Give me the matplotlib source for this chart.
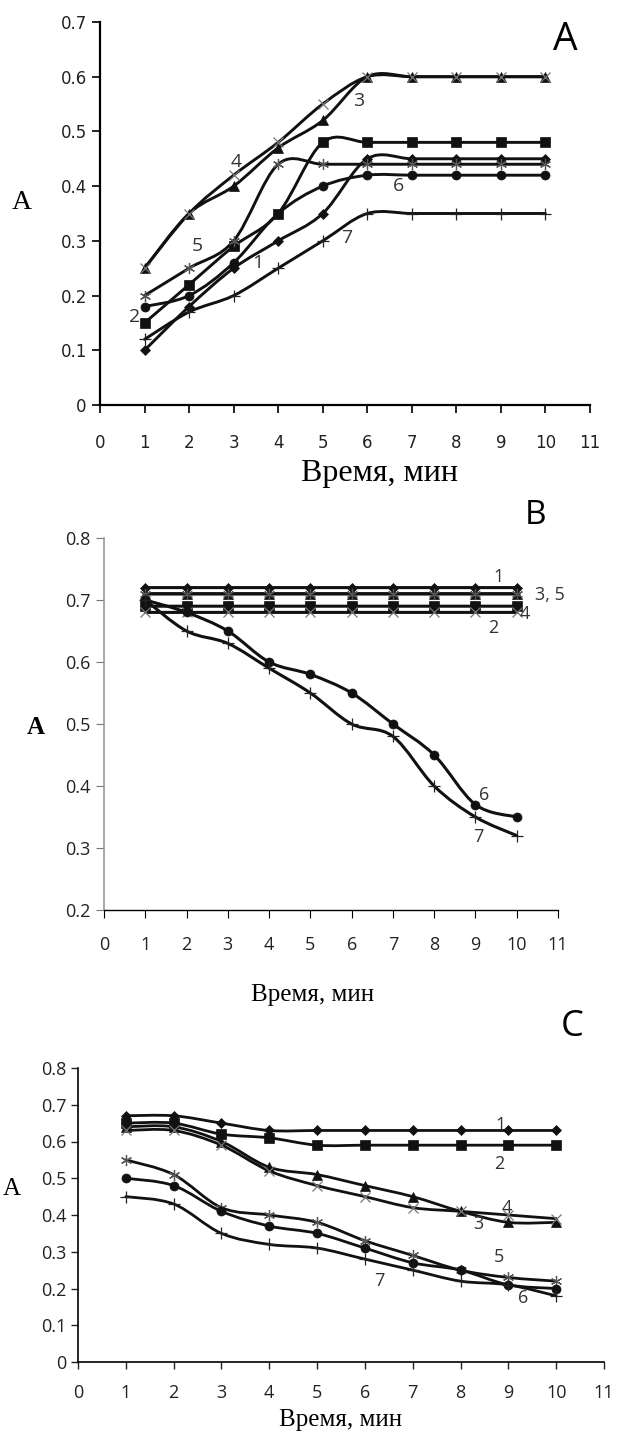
import numpy as np
import matplotlib
matplotlib.use("Agg")
import matplotlib.pyplot as plt
from matplotlib.path import Path
from matplotlib.patches import PathPatch

# time axis (min)
time = [1, 2, 3, 4, 5, 6, 7, 8, 9, 10]

# panel A
a1 = [0.10, 0.18, 0.25, 0.30, 0.35, 0.45, 0.45, 0.45, 0.45, 0.45]
a2 = [0.15, 0.22, 0.29, 0.35, 0.48, 0.48, 0.48, 0.48, 0.48, 0.48]
a3 = [0.25, 0.35, 0.40, 0.47, 0.52, 0.60, 0.60, 0.60, 0.60, 0.60]
a4 = [0.25, 0.35, 0.42, 0.48, 0.55, 0.60, 0.60, 0.60, 0.60, 0.60]
a5 = [0.20, 0.25, 0.30, 0.44, 0.44, 0.44, 0.44, 0.44, 0.44, 0.44]
a6 = [0.18, 0.20, 0.26, 0.35, 0.40, 0.42, 0.42, 0.42, 0.42, 0.42]
a7 = [0.12, 0.17, 0.20, 0.25, 0.30, 0.35, 0.35, 0.35, 0.35, 0.35]

# panel B
b1 = [0.72] * 10
b2 = [0.69] * 10
b3 = [0.71] * 10
b4 = [0.68] * 10
b5 = [0.71] * 10
b6 = [0.70, 0.68, 0.65, 0.60, 0.58, 0.55, 0.50, 0.45, 0.37, 0.35]
b7 = [0.70, 0.65, 0.63, 0.59, 0.55, 0.50, 0.48, 0.40, 0.35, 0.32]

# panel C
c1 = [0.67, 0.67, 0.65, 0.63, 0.63, 0.63, 0.63, 0.63, 0.63, 0.63]
c2 = [0.65, 0.65, 0.62, 0.61, 0.59, 0.59, 0.59, 0.59, 0.59, 0.59]
c3 = [0.64, 0.64, 0.60, 0.53, 0.51, 0.48, 0.45, 0.41, 0.38, 0.38]
c4 = [0.63, 0.63, 0.59, 0.52, 0.48, 0.45, 0.42, 0.41, 0.40, 0.39]
c5 = [0.55, 0.51, 0.42, 0.40, 0.38, 0.33, 0.29, 0.25, 0.23, 0.22]
c6 = [0.50, 0.48, 0.41, 0.37, 0.35, 0.31, 0.27, 0.25, 0.21, 0.20]
c7 = [0.45, 0.43, 0.35, 0.32, 0.31, 0.28, 0.25, 0.22, 0.21, 0.18]

# curve numbers and where they sit
a_labels = ["1", "2", "3", "4", "5", "6", "7"]
a_label_xy = [(3.55, 0.26), (0.78, 0.16), (5.8, 0.556), (3.05, 0.445),
              (2.18, 0.29), (6.7, 0.40), (5.53, 0.305)]
b_labels = ["1", "3, 5", "4", "2", "6", "7"]
b_label_xy = [(9.56, 0.737), (10.8, 0.708), (10.2, 0.677), (9.44, 0.655),
              (9.2, 0.385), (9.06, 0.318)]
c_labels = ["1", "2", "3", "4", "5", "6", "7"]
c_label_xy = [(8.83, 0.645), (8.8, 0.54), (8.37, 0.375), (8.97, 0.42),
              (8.8, 0.285), (9.3, 0.175), (6.3, 0.22)]

# marker per curve number (Excel style)
MARKERS = [
    dict(marker="D", ms=5.0, mfc="#111", mec="#111", mew=0.5),
    dict(marker="s", ms=6.5, mfc="#111", mec="#111", mew=0.5),
    dict(marker="^", ms=6.5, mfc="#111", mec="#111", mew=0.5),
    dict(marker="x", ms=7.0, mfc="none", mec="#777", mew=0.9),
    dict(marker=(6, 2, 0), ms=8.0, mfc="none", mec="#555", mew=0.9),
    dict(marker="o", ms=6.5, mfc="#111", mec="#111", mew=0.5),
    dict(marker="+", ms=8.0, mfc="none", mec="#222", mew=0.9),
]

SANS = ["Liberation Sans Narrow", "Open Sans", "DejaVu Sans"]
SERIF = ["Liberation Serif", "DejaVu Serif"]


def smooth_line(ax, x, y, lw=2.0):
    # Excel-like smoothed line: cubic Bezier through each point
    pts = np.column_stack([x, y]).astype(float)
    n = len(pts)
    verts = [pts[0]]
    codes = [Path.MOVETO]
    for i in range(n - 1):
        p0 = pts[max(i - 1, 0)]
        p1 = pts[i]
        p2 = pts[i + 1]
        p3 = pts[min(i + 2, n - 1)]
        verts += [p1 + (p2 - p0) / 6.0, p2 - (p3 - p1) / 6.0, p2]
        codes += [Path.CURVE4] * 3
    ax.add_patch(PathPatch(Path(verts, codes), fill=False, ec="#111",
                           lw=lw, capstyle="round", joinstyle="round", zorder=2))


def draw_panel(ax, series, lw):
    for k, ys in enumerate(series):
        smooth_line(ax, time, ys, lw)
        ax.plot(time, ys, ls="none", zorder=3, **MARKERS[k])


def yfmt(v):
    return "0" if abs(v) < 1e-9 else f"{v:.1f}"


fig = plt.figure(figsize=(6.17, 14.39), dpi=100)

# ---------- A ----------
axA = fig.add_axes([100 / 617, 1 - 405 / 1439, 490 / 617, 383 / 1439])
draw_panel(axA, [a1, a2, a3, a4, a5, a6, a7], 2.1)
axA.set_xlim(0, 11)
axA.set_ylim(0, 0.7)
axA.set_xticks(range(0, 12))
yt = np.arange(0, 0.71, 0.1)
axA.set_yticks(yt)
axA.set_yticklabels([yfmt(v) for v in yt])
for s in ["top", "right"]:
    axA.spines[s].set_visible(False)
for s in ["left", "bottom"]:
    axA.spines[s].set_linewidth(1.6)
axA.tick_params(axis="both", width=1.4, length=6, labelsize=12, colors="#222")
axA.tick_params(axis="x", pad=15)
for t in axA.get_xticklabels() + axA.get_yticklabels():
    t.set_family(["DejaVu Sans"])
axA.set_xlabel("Время, мин", family=SERIF, fontsize=23)
axA.xaxis.set_label_coords(0.571, -0.141)
axA.set_ylabel("A", family=SERIF, fontsize=20, rotation=0)
axA.yaxis.set_label_coords(-0.16, 0.496)
for lab, (x, y) in zip(a_labels, a_label_xy):
    axA.text(x, y, lab, fontsize=14, color="#333", ha="center", va="center", family=SANS)
fig.text(565 / 617, 1 - 40 / 1439, "A", fontsize=28, ha="center", va="center", family=SANS)

# ---------- B ----------
axB = fig.add_axes([104 / 617, 1 - 910 / 1439, 454 / 617, 372 / 1439])
draw_panel(axB, [b1, b2, b3, b4, b5, b6, b7], 2.2)
axB.set_xlim(0, 11)
axB.set_ylim(0.2, 0.8)
axB.set_xticks(range(0, 12))
yt = np.arange(0.2, 0.81, 0.1)
axB.set_yticks(yt)
axB.set_yticklabels([yfmt(v) for v in yt])
for s in ["top", "right"]:
    axB.spines[s].set_visible(False)
axB.spines["left"].set_color("#999")
axB.spines["left"].set_linewidth(1.2)
axB.spines["bottom"].set_linewidth(1.0)
axB.tick_params(axis="y", width=0.8, length=6, color="#777", labelsize=13, labelcolor="#222")
axB.tick_params(axis="x", width=0.8, length=6, labelsize=13, labelcolor="#222", pad=13)
for t in axB.get_xticklabels() + axB.get_yticklabels():
    t.set_family(SANS)
axB.set_xlabel("Время, мин", family=SERIF, fontsize=18)
axB.xaxis.set_label_coords(0.46, -0.2)
axB.set_ylabel("A", family=SERIF, fontsize=18, rotation=0, fontweight="bold")
axB.yaxis.set_label_coords(-0.15, 0.46)
for lab, (x, y) in zip(b_labels, b_label_xy):
    axB.text(x, y, lab, fontsize=13, color="#333", ha="center", va="center", family=SANS)
fig.text(535 / 617, 1 - 515 / 1439, "B", fontsize=24, ha="center", va="center", family=SANS)

# ---------- C ----------
axC = fig.add_axes([78 / 617, 1 - 1362 / 1439, 526 / 617, 294 / 1439])
draw_panel(axC, [c1, c2, c3, c4, c5, c6, c7], 2.0)
axC.set_xlim(0, 11)
axC.set_ylim(0, 0.8)
axC.set_xticks(range(0, 12))
yt = np.arange(0, 0.81, 0.1)
axC.set_yticks(yt)
axC.set_yticklabels([yfmt(v) for v in yt])
for s in ["top", "right"]:
    axC.spines[s].set_visible(False)
for s in ["left", "bottom"]:
    axC.spines[s].set_linewidth(1.2)
axC.tick_params(axis="both", width=1.0, length=5, labelsize=13, colors="#222")
axC.tick_params(axis="x", pad=11)
for t in axC.get_xticklabels() + axC.get_yticklabels():
    t.set_family(SANS)
axC.set_xlabel("Время, мин", family=SERIF, fontsize=18)
axC.xaxis.set_label_coords(0.5, -0.16)
axC.set_ylabel("A", family=SERIF, fontsize=18, rotation=0)
axC.yaxis.set_label_coords(-0.125, 0.55)
for lab, (x, y) in zip(c_labels, c_label_xy):
    axC.text(x, y, lab, fontsize=13, color="#333", ha="center", va="center", family=SANS)
fig.text(572 / 617, 1 - 1027 / 1439, "C", fontsize=26, ha="center", va="center", family=SANS)

fig.savefig("out.png", dpi=100)
